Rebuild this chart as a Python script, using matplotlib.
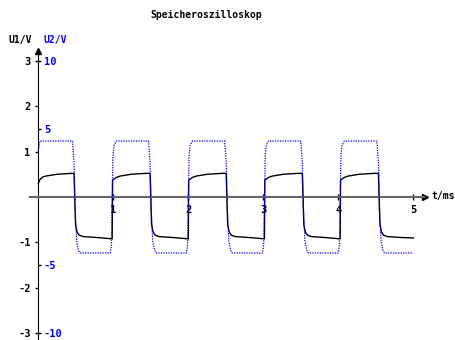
import matplotlib
matplotlib.use('Agg')
import matplotlib.pyplot as plt

plt.rcParams['font.family'] = ['DejaVu Sans Mono']
plt.rcParams['font.weight'] = 'bold'
plt.rcParams['font.size'] = 7

# Kanal 1 (U1 in V) - Spannung am Kondensator
t1 = [0.00, 0.02, 0.06, 0.10, 0.25, 0.45, 0.476, 0.496, 0.516, 0.546, 0.60, 0.78, 0.985,
      0.99, 1.04, 1.09, 1.24, 1.44, 1.49, 1.51, 1.53, 1.56, 1.61, 1.79, 2.00,
      2.005, 2.055, 2.105, 2.255, 2.455, 2.505, 2.525, 2.545, 2.575, 2.625, 2.805, 3.015,
      3.02, 3.07, 3.12, 3.27, 3.47, 3.52, 3.54, 3.56, 3.59, 3.64, 3.82, 4.025,
      4.03, 4.08, 4.13, 4.28, 4.48, 4.535, 4.555, 4.575, 4.605, 4.655, 4.835, 5.00]
u1 = [0.30, 0.38, 0.44, 0.46, 0.50, 0.52, 0.52, -0.60, -0.77, -0.84, -0.87, -0.89, -0.92,
      0.37, 0.43, 0.46, 0.50, 0.52, 0.52, -0.60, -0.77, -0.84, -0.87, -0.89, -0.92,
      0.37, 0.43, 0.46, 0.50, 0.52, 0.52, -0.60, -0.77, -0.84, -0.87, -0.89, -0.92,
      0.37, 0.43, 0.46, 0.50, 0.52, 0.52, -0.60, -0.77, -0.84, -0.87, -0.89, -0.92,
      0.37, 0.43, 0.46, 0.50, 0.52, 0.52, -0.60, -0.77, -0.84, -0.87, -0.89, -0.90]

# Kanal 2 (U2 in V) - Rechteckspannung des Generators
t2 = [0.00, 0.02, 0.456, 0.476, 0.491, 0.511, 0.536, 0.556,
      0.96, 0.975, 0.995, 1.01, 1.04, 1.47, 1.49, 1.505, 1.525, 1.55, 1.57,
      1.975, 1.99, 2.01, 2.025, 2.055, 2.485, 2.505, 2.52, 2.54, 2.565, 2.585,
      2.99, 3.005, 3.025, 3.04, 3.07, 3.50, 3.52, 3.535, 3.555, 3.58, 3.60,
      4.00, 4.015, 4.035, 4.05, 4.08, 4.515, 4.535, 4.55, 4.57, 4.595, 4.615, 5.00]
u2 = [3.4, 4.1, 4.1, 2.5, -1.0, -3.2, -3.9, -4.1,
      -4.1, -3.5, 3.0, 3.8, 4.1, 4.1, 2.5, -1.0, -3.2, -3.9, -4.1,
      -4.1, -3.5, 3.0, 3.8, 4.1, 4.1, 2.5, -1.0, -3.2, -3.9, -4.1,
      -4.1, -3.5, 3.0, 3.8, 4.1, 4.1, 2.5, -1.0, -3.2, -3.9, -4.1,
      -4.1, -3.5, 3.0, 3.8, 4.1, 4.1, 2.5, -1.0, -3.2, -3.9, -4.1, -4.1]

x_ticks = [1, 2, 3, 4, 5]
y1_ticks = [-3, -2, -1, 1, 2, 3]
y2_ticks = [-10, -5, 5, 10]

fig = plt.figure(figsize=(4.55, 3.4), dpi=100)
ax = fig.add_axes([0, 0, 1, 1])
ax.set_xlim(-0.511, 5.556)
ax.set_ylim(-3.143, 4.33)
ax.patch.set_visible(False)

ax2 = ax.twinx()
ax2.set_position([0, 0, 1, 1])
ax2.set_ylim(-3.143 * 10 / 3, 4.33 * 10 / 3)

# Achsen durch den Nullpunkt
for s in ['top', 'right']:
    ax.spines[s].set_visible(False)
for s in ['top', 'left', 'bottom']:
    ax2.spines[s].set_visible(False)
ax.spines['left'].set_position(('data', 0))
ax.spines['left'].set_bounds(-3.2, 3.2)
ax.spines['bottom'].set_position(('data', 0))
ax.spines['bottom'].set_bounds(-0.11, 5.14)
ax.spines['bottom'].set_color('#666666')
ax.spines['bottom'].set_linewidth(1.5)
ax2.spines['right'].set_position(('data', 0))
ax2.spines['right'].set_visible(False)

ax.plot([5.16], [0], marker='>', color='black', markersize=5, clip_on=False)
ax.plot([0], [3.2], marker='^', color='black', markersize=5, clip_on=False)

ax.set_xticks(x_ticks)
ax.set_xticklabels([str(v) for v in x_ticks])
ax.tick_params(axis='x', direction='inout', length=5, width=1, pad=3, color='black')
ax.set_yticks(y1_ticks)
ax.set_yticklabels([str(v) for v in y1_ticks])
ax.tick_params(axis='y', direction='out', length=2.5, width=1, pad=3)
ax2.set_yticks(y2_ticks)
ax2.set_yticklabels([str(v) for v in y2_ticks])
ax2.tick_params(axis='y', direction='out', length=2.5, width=1, pad=1.5,
                colors='black', labelcolor='#0000ff')
for lab in ax.get_xticklabels() + ax.get_yticklabels() + ax2.get_yticklabels():
    lab.set_fontsize(7.5)

ax.plot(t1, u1, color='black', linewidth=1)
ax2.plot(t2, u2, color='#0000ff', linewidth=0.9, linestyle=(0, (1, 1)))

fig.text(206 / 455, 1 - 15 / 340, 'Speicheroszilloskop', ha='center', va='center')
fig.text(20 / 455, 1 - 40 / 340, 'U1/V', ha='center', va='center', color='black')
fig.text(55 / 455, 1 - 40 / 340, 'U2/V', ha='center', va='center', color='#0000ff')
fig.text(432 / 455, 1 - 196 / 340, 't/ms', ha='left', va='center')

fig.savefig('out.png', dpi=100)
